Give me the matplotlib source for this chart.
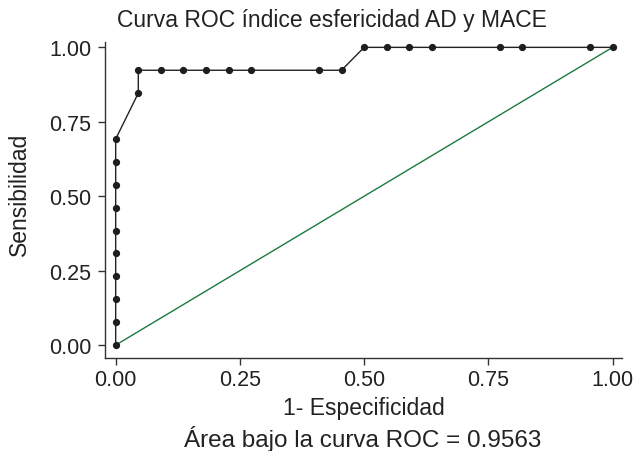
import matplotlib
matplotlib.use("Agg")
import matplotlib.pyplot as plt

plt.rcParams['font.family'] = ['Liberation Sans', 'DejaVu Sans']

# 1 - especificidad / sensibilidad
fpr = [0.0, 0.0, 0.0, 0.0, 0.0, 0.0, 0.0, 0.0, 0.0, 0.0,
       0.0455, 0.0455, 0.0909, 0.1364, 0.1818, 0.2273, 0.2727,
       0.4091, 0.4545, 0.5, 0.5455, 0.5909, 0.6364, 0.7727, 0.8182,
       0.9545, 1.0]
sens = [0.0, 0.0769, 0.1538, 0.2308, 0.3077, 0.3846, 0.4615, 0.5385, 0.6154, 0.6923,
        0.8462, 0.9231, 0.9231, 0.9231, 0.9231, 0.9231, 0.9231,
        0.9231, 0.9231, 1.0, 1.0, 1.0, 1.0, 1.0, 1.0,
        1.0, 1.0]
ref_line = [0.0, 1.0]
ticks = [0.0, 0.25, 0.5, 0.75, 1.0]
tick_labels = ['0.00', '0.25', '0.50', '0.75', '1.00']

fig = plt.figure(figsize=(6.44, 4.52), dpi=100)
W, H = 644, 452
# axes box in pixels: left spine x=105, right 622, bottom spine y=358.6, top 43
ax = fig.add_axes([105 / W, 1 - 358.6 / H, (622 - 105) / W, (358.6 - 43) / H])

ax.plot(ref_line, ref_line, color='#1b7a40', lw=1.0, zorder=2)
ax.plot(fpr, sens, color='#222222', lw=1.0, marker='o', markersize=4.2,
        markerfacecolor='#1e1e1e', markeredgecolor='#1e1e1e', zorder=3)

ax.set_xlim(-0.0215, 1.019)
ax.set_ylim(-0.042, 1.018)
ax.set_xticks(ticks)
ax.set_xticklabels(tick_labels)
ax.set_yticks(ticks)
ax.set_yticklabels(tick_labels)

for s in ['top', 'right']:
    ax.spines[s].set_visible(False)
for s in ['left', 'bottom']:
    ax.spines[s].set_color('#333333')
    ax.spines[s].set_linewidth(1.0)
ax.tick_params(direction='out', length=5, width=1, color='#333333',
               labelsize=15.5, labelcolor='#222222')
ax.tick_params(axis='y', pad=5)
ax.tick_params(axis='x', pad=3)

fig.text(332 / W, 1 - 20 / H, 'Curva ROC índice esfericidad AD y MACE',
         ha='center', va='center', fontsize=16.5, color='#222222')
fig.text(19 / W, 1 - 194 / H, 'Sensibilidad', rotation=90,
         ha='center', va='center', fontsize=16.5, color='#222222')
fig.text(364 / W, 1 - 409 / H, '1- Especificidad',
         ha='center', va='center', fontsize=16.5, color='#222222')
fig.text(363 / W, 1 - 439 / H, 'Área bajo la curva ROC = 0.9563',
         ha='center', va='center', fontsize=17.5, color='#222222')

fig.savefig('out.png', dpi=100)
